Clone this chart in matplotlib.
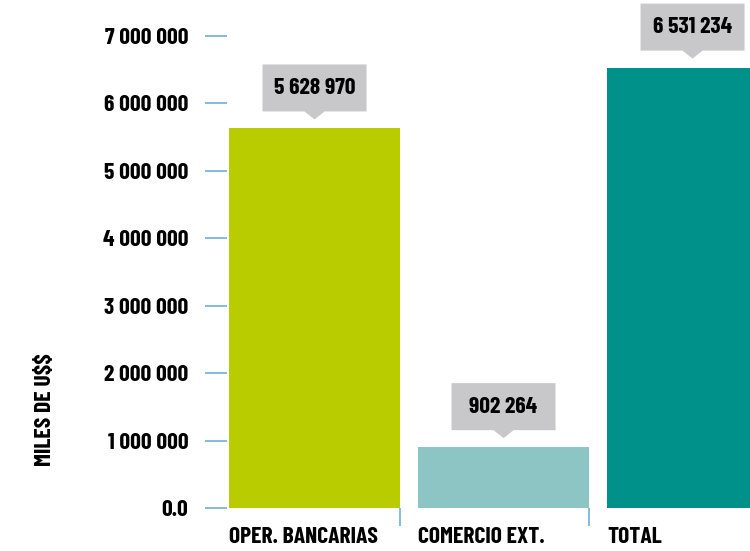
import matplotlib.pyplot as plt
import matplotlib.transforms as mtransforms
from matplotlib.patches import Polygon

# data
categories = ['OPER. BANCARIAS', 'COMERCIO EXT.', 'TOTAL']
values = [5628970, 902264, 6531234]
value_labels = ['5 628 970', '902 264', '6 531 234']
y_ticks = [0, 1000000, 2000000, 3000000, 4000000, 5000000, 6000000, 7000000]
y_tick_labels = ['0.0', '1 000 000', '2 000 000', '3 000 000', '4 000 000',
                 '5 000 000', '6 000 000', '7 000 000']

colors = ['#b8cc00', '#8cc5c4', '#00918a']
tick_blue = '#7eb3dc'
box_gray = '#c8c8ca'
fkw = dict(fontfamily=['Barlow Condensed', 'DejaVu Sans'], fontweight=700)
fs = 17

fig = plt.figure(figsize=(7.5, 5.51), dpi=100)
ax = fig.add_axes([227 / 750, 43 / 551, 523 / 750, 508 / 551])

x = list(range(len(values)))
width = 0.905
ax.bar(x, values, width=width, color=colors, zorder=2)

ax.set_xlim(-0.463, 2.304)
ax.set_ylim(0, 7534000)

for s in ax.spines.values():
    s.set_visible(False)

ax.set_yticks(y_ticks)
ax.set_yticklabels(y_tick_labels, fontsize=fs, **fkw)
ax.tick_params(axis='y', length=15.8, width=1.3, color=tick_blue, pad=12)

# small separators under the baseline
ax.set_xticks([])
ax.set_xticks([i + width / 2 for i in x[:-1]], minor=True)
ax.tick_params(axis='x', which='minor', length=13, width=1.3, color=tick_blue,
               direction='out', labelbottom=False)

# category labels, left aligned to bar edge
for i, cat in zip(x, categories):
    ax.text(i - width / 2, -0.058, cat, transform=ax.get_xaxis_transform(),
            ha='left', va='center', fontsize=fs, clip_on=False, **fkw)

# value callouts
for i, v, lab in zip(x, values, value_labels):
    tr = fig.dpi_scale_trans + mtransforms.ScaledTranslation(i, v, ax.transData)
    pts = [(-0.52, 0.17), (-0.10, 0.17), (0, 0.09), (0.10, 0.17), (0.52, 0.17),
           (0.52, 0.64), (-0.52, 0.64)]
    ax.add_patch(Polygon(pts, closed=True, transform=tr, facecolor=box_gray,
                         edgecolor='none', clip_on=False, zorder=3))
    ax.text(0, 0.405, lab, transform=tr, ha='center', va='center',
            fontsize=fs, zorder=4, **fkw)

fig.text(45 / 750, 1 - 410 / 551, 'MILES DE U$$', rotation=90, ha='center',
         va='center', fontsize=fs, parse_math=False, **fkw)

fig.savefig('out.png', dpi=100)
